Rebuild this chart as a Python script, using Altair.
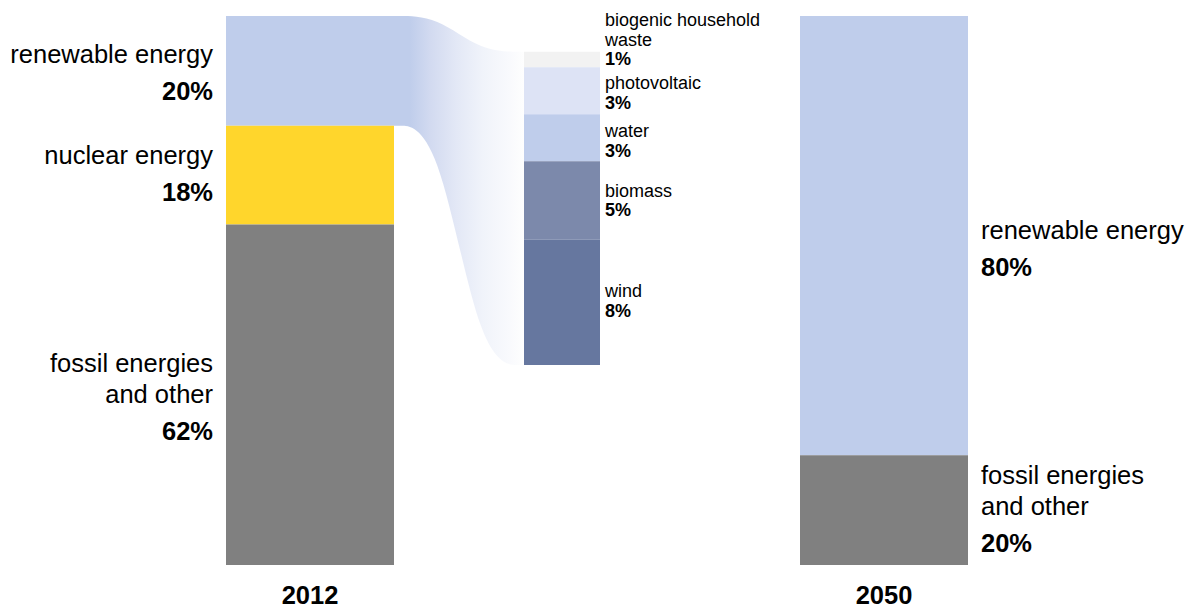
import altair as alt
import pandas as pd

# ---------------- data ----------------
mix_2012_labels = ["renewable energy", "nuclear energy", "fossil energies\nand other"]
mix_2012_values = [20, 18, 62]
mix_2050_labels = ["renewable energy", "fossil energies\nand other"]
mix_2050_values = [80, 20]
renew_labels = ["biogenic household\nwaste", "photovoltaic", "water", "biomass", "wind"]
renew_values = [1, 3, 3, 5, 8]
years = ["2012", "2050"]

# ---------------- style ----------------
mix_2012_colors = ["#bfcdeb", "#ffd62c", "#808080"]
mix_2050_colors = ["#bfcdeb", "#808080"]
renew_colors = ["#f2f2f2", "#dde3f5", "#bfcdeb", "#7c89ab", "#66779f"]
FONT = "Liberation Sans"
TEXT_COLOR = "#000000"

# ---------------- layout ----------------
W, H = 1177, 600
PX = 5.49                      # pixels per percentage point on the main bars
Y_DOMAIN = [-8 / PX, (H - 8) / PX]
COL_2012 = (218, 386)
COL_MID = (516, 592)
COL_2050 = (792, 960)
MID_TOP = 6.5                  # top of the breakdown bar (in main-bar units)
MID_ZOOM = 2.853               # magnification of the breakdown bar
BIG_FS, BIG_LH, BIG_GAP = 25.5, 31, 37
SMALL_FS, SMALL_LH, SMALL_GAP = 18, 20, 19.5
nudge_2012 = [3, 0, 3.7]
nudge_2050 = [14.4, 0]
nudge_mid = [-11.5, 1, 2, -1, -2.5]
YEAR_GAP = 39

rects, big_left, big_right, small = [], [], [], []


def stack(labels, values, colors, col, top, zoom, nudges, out, base, gap, lh, label_x):
    cum = 0.0
    for lab, v, c, nd in zip(labels, values, colors, nudges):
        y0 = top + cum * zoom
        y1 = top + (cum + v) * zoom
        rects.append(dict(x0=col[0], x1=col[1], y0=y0, y1=y1, color=c))
        n = lab.count("\n") + 1
        mid = (y0 + y1) / 2
        pct_y = mid + (base + (lh / 2) * (n - 1) + nd) / PX if base is not None else None
        out.append(dict(x=label_x, name=lab, pct=f"{v}%", pct_y=pct_y,
                        name_y=pct_y - (gap + lh * (n - 1)) / PX))
        cum += v


stack(mix_2012_labels, mix_2012_values, mix_2012_colors, COL_2012, 0.0, 1.0,
      nudge_2012, big_left, 26, BIG_GAP, BIG_LH, COL_2012[0] - 13)
stack(mix_2050_labels, mix_2050_values, mix_2050_colors, COL_2050, 0.0, 1.0,
      nudge_2050, big_right, 26, BIG_GAP, BIG_LH, COL_2050[1] + 13)
small_out = []
cum = 0.0
for lab, v, c, nd in zip(renew_labels, renew_values, renew_colors, nudge_mid):
    y0 = MID_TOP + cum * MID_ZOOM
    y1 = MID_TOP + (cum + v) * MID_ZOOM
    rects.append(dict(x0=COL_MID[0], x1=COL_MID[1], y0=y0, y1=y1, color=c))
    n = lab.count("\n") + 1
    pct_y = (y0 + y1) / 2 + (17 + nd) / PX
    small.append(dict(x=COL_MID[1] + 5, name=lab, pct=f"{v}%", pct_y=pct_y,
                      name_y=pct_y - (SMALL_GAP + SMALL_LH * (n - 1)) / PX))
    cum += v

rect_df = pd.DataFrame(rects)
left_df = pd.DataFrame(big_left)
right_df = pd.DataFrame(big_right)
small_df = pd.DataFrame(small)
year_df = pd.DataFrame({
    "year": years,
    "x": [(COL_2012[0] + COL_2012[1]) / 2, (COL_2050[0] + COL_2050[1]) / 2],
    "y": [100 + YEAR_GAP / PX] * 2,
})

# flow band from the 2012 renewable block to the breakdown bar
renew_share = mix_2012_values[0]
span = COL_MID[0] - COL_2012[1]
flow_df = pd.DataFrame({
    "x": [COL_2012[1], COL_2012[1] + span / 3, COL_2012[1] + 2 * span / 3, COL_MID[0]],
    "top": [0, 0, MID_TOP, MID_TOP],
    "bottom": [renew_share, renew_share, MID_TOP + sum(renew_values) * MID_ZOOM,
               MID_TOP + sum(renew_values) * MID_ZOOM],
})

xs = alt.Scale(domain=[0, W], nice=False, zero=False)
ys = alt.Scale(domain=Y_DOMAIN, reverse=True, nice=False, zero=False)

gradient = alt.Gradient(
    gradient="linear",
    stops=[
        alt.GradientStop(color="#bfcdeb", offset=0),
        alt.GradientStop(color="#bfcdeb", offset=0.12),
        alt.GradientStop(color="#d2daf0", offset=0.28),
        alt.GradientStop(color="#e3e8f6", offset=0.48),
        alt.GradientStop(color="#f0f3fa", offset=0.68),
        alt.GradientStop(color="#f9fafd", offset=0.89),
        alt.GradientStop(color="#fefefe", offset=1),
    ],
    x1=0, x2=1, y1=0, y2=0,
)

flow = alt.Chart(flow_df).mark_area(interpolate="basis", fill=gradient, strokeWidth=0).encode(
    x=alt.X("x:Q", scale=xs, axis=None),
    y=alt.Y("top:Q", scale=ys, axis=None),
    y2="bottom:Q",
)

bars = alt.Chart(rect_df).mark_rect(strokeWidth=0).encode(
    x=alt.X("x0:Q", scale=xs, axis=None),
    x2="x1:Q",
    y=alt.Y("y0:Q", scale=ys, axis=None),
    y2="y1:Q",
    color=alt.Color("color:N", scale=None),
)


def text_layers(df, align, fs, lh):
    names = alt.Chart(df).mark_text(
        align=align, baseline="alphabetic", font=FONT, fontSize=fs, lineHeight=lh,
        lineBreak="\n", color=TEXT_COLOR,
    ).encode(
        x=alt.X("x:Q", scale=xs, axis=None),
        y=alt.Y("name_y:Q", scale=ys, axis=None),
        text="name:N",
    )
    pcts = alt.Chart(df).mark_text(
        align=align, baseline="alphabetic", font=FONT, fontSize=fs, fontWeight="bold",
        color=TEXT_COLOR,
    ).encode(
        x=alt.X("x:Q", scale=xs, axis=None),
        y=alt.Y("pct_y:Q", scale=ys, axis=None),
        text="pct:N",
    )
    return [names, pcts]


year_text = alt.Chart(year_df).mark_text(
    align="center", baseline="alphabetic", font=FONT, fontSize=BIG_FS, fontWeight="bold",
    color=TEXT_COLOR,
).encode(
    x=alt.X("x:Q", scale=xs, axis=None),
    y=alt.Y("y:Q", scale=ys, axis=None),
    text="year:N",
)

layers = [flow, bars]
layers += text_layers(left_df, "right", BIG_FS, BIG_LH)
layers += text_layers(right_df, "left", BIG_FS, BIG_LH)
layers += text_layers(small_df, "left", SMALL_FS, SMALL_LH)
layers.append(year_text)

chart = alt.layer(*layers).properties(
    width=W, height=H, padding=0, autosize=alt.AutoSizeParams(type="none"),
).configure_view(strokeWidth=0)

chart.save("out.html", embed_options={"renderer": "svg", "actions": False})
